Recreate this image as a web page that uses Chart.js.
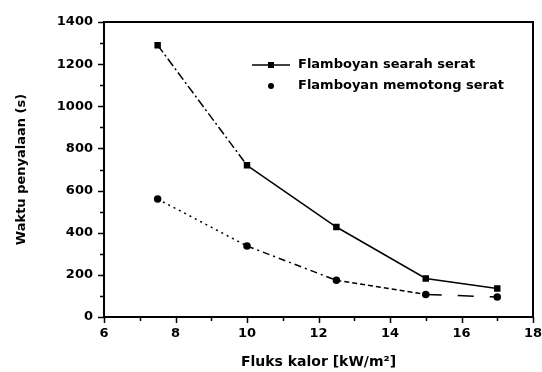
<!DOCTYPE html>
<html>
<head>
<meta charset="utf-8">
<script src="https://cdn.jsdelivr.net/npm/chart.js@4/dist/chart.umd.min.js"></script>
<style>
  html, body { margin: 0; padding: 0; background: #fff; }
  #wrap { width: 542px; height: 372px; }
</style>
</head>
<body>
<div id="wrap"><canvas id="fluxChart" width="542" height="372"></canvas></div>
<script>
const fluxValues = [7.5, 10, 12.5, 15, 17];
const searahValues = [1290, 720, 427, 183, 135];
const memotongValues = [560, 337, 174, 107, 95];
const seriesNames = ['Flamboyan searah serat', 'Flamboyan memotong serat'];
const xTicksMajor = [6, 8, 10, 12, 14, 16, 18];
const yTicksMajor = [0, 200, 400, 600, 800, 1000, 1200, 1400];

const FONT = '"DejaVu Sans", "Liberation Sans", Arial, sans-serif';

// dash pattern per segment (between consecutive points)
const searahDash = [[9, 3, 2, 3], [], [], []];
const memotongDash = [[2, 4], [7, 4, 2, 4], [5, 3], [16, 16]];

function toPoints(xs, ys) {
    return xs.map((x, i) => ({ x, y: ys[i] }));
}

// ticks, minor ticks, frame and legend
const decorPlugin = {
    id: 'decor',
    afterDraw(chart) {
        const { ctx, chartArea: a, scales } = chart;
        const xs = scales.x;
        const ys = scales.y;
        ctx.save();
        ctx.strokeStyle = '#000';
        ctx.lineWidth = 2;
        ctx.strokeRect(a.left, a.top, a.right - a.left, a.bottom - a.top);

        ctx.lineWidth = 1.5;
        ctx.beginPath();
        for (let v = 6; v <= 18; v += 1) {
            const px = Math.round(xs.getPixelForValue(v)) + 0.5;
            const len = v % 2 === 0 ? 6 : 4;
            ctx.moveTo(px, a.bottom);
            ctx.lineTo(px, a.bottom + len);
        }
        for (let v = 0; v <= 1400; v += 100) {
            const py = Math.round(ys.getPixelForValue(v)) + 0.5;
            const len = v % 200 === 0 ? 6 : 4;
            ctx.moveTo(a.left, py);
            ctx.lineTo(a.left - len, py);
        }
        ctx.stroke();

        // legend
        const lx = 252, ly1 = 65, ly2 = 86;
        ctx.lineWidth = 1.5;
        ctx.beginPath();
        ctx.moveTo(lx, ly1);
        ctx.lineTo(lx + 38, ly1);
        ctx.stroke();
        ctx.fillStyle = '#000';
        ctx.fillRect(lx + 19 - 3, ly1 - 3, 6, 6);
        ctx.beginPath();
        ctx.arc(lx + 19, ly2, 3, 0, Math.PI * 2);
        ctx.fill();
        ctx.font = 'bold 13px ' + FONT;
        ctx.textBaseline = 'middle';
        ctx.textAlign = 'left';
        ctx.fillText(seriesNames[0], lx + 46, ly1);
        ctx.fillText(seriesNames[1], lx + 46, ly2);
        ctx.restore();
    },
};

function createChart() {
    const canvas = document.getElementById('fluxChart');
    const ctx = canvas.getContext('2d');

    new Chart(ctx, {
        type: 'line',
        data: {
            datasets: [
                {
                    label: seriesNames[0],
                    data: toPoints(fluxValues, searahValues),
                    borderColor: '#000',
                    backgroundColor: '#000',
                    borderWidth: 1.5,
                    pointStyle: 'rect',
                    pointRadius: 3.5,
                    tension: 0,
                    segment: {
                        borderDash: (c) => searahDash[c.p0DataIndex] || [],
                    },
                },
                {
                    label: seriesNames[1],
                    data: toPoints(fluxValues, memotongValues),
                    borderColor: '#000',
                    backgroundColor: '#000',
                    borderWidth: 1.5,
                    pointStyle: 'circle',
                    pointRadius: 3,
                    tension: 0,
                    segment: {
                        borderDash: (c) => memotongDash[c.p0DataIndex] || [],
                    },
                },
            ],
        },
        options: {
            responsive: false,
            animation: false,
            layout: { padding: { top: 22, right: 0, left: 0, bottom: 0 } },
            plugins: {
                legend: { display: false },
                tooltip: { enabled: false },
            },
            scales: {
                x: {
                    type: 'linear',
                    min: 6,
                    max: 18,
                    afterBuildTicks: (s) => { s.ticks = xTicksMajor.map((v) => ({ value: v })); },
                    afterFit: (s) => { s.height = 55; s.paddingRight = 9; s.paddingLeft = 0; },
                    grid: { display: false, drawTicks: false },
                    border: { display: false },
                    ticks: {
                        padding: 9,
                        color: '#000',
                        font: { family: FONT, size: 13, weight: 'bold' },
                        maxRotation: 0,
                        callback: (v) => String(v),
                    },
                    title: {
                        display: true,
                        text: 'Fluks kalor [kW/m²]',
                        color: '#000',
                        font: { family: FONT, size: 14, weight: 'bold' },
                        padding: { top: 6, bottom: 1 },
                    },
                },
                y: {
                    min: 0,
                    max: 1400,
                    afterBuildTicks: (s) => { s.ticks = yTicksMajor.map((v) => ({ value: v })); },
                    afterFit: (s) => { s.width = 104; },
                    grid: { display: false, drawTicks: false },
                    border: { display: false },
                    ticks: {
                        padding: 11,
                        color: '#000',
                        font: { family: FONT, size: 13, weight: 'bold' },
                        callback: (v) => String(v),
                    },
                    title: {
                        display: true,
                        text: 'Waktu penyalaan (s)',
                        color: '#000',
                        font: { family: FONT, size: 13, weight: 'bold' },
                        padding: { top: 14, bottom: 0 },
                    },
                },
            },
        },
        plugins: [decorPlugin],
    });
}

createChart();
</script>
</body>
</html>
